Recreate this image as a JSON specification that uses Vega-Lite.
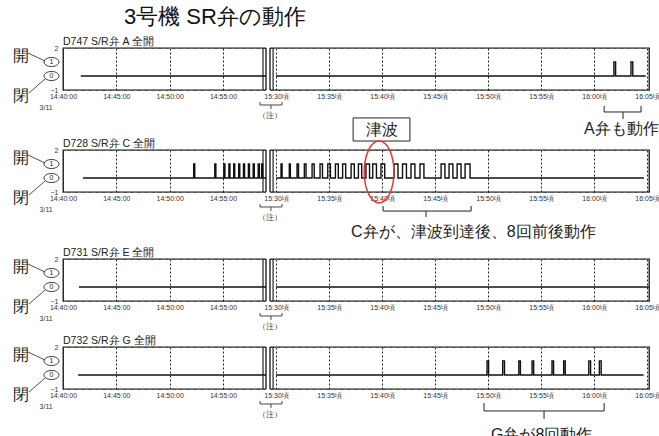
{
"padding": {"left": 12, "top": 6, "right": 0, "bottom": 0},
"config": {
 "view": {"stroke": "#111", "strokeWidth": 1.3},
 "axis": {"ticks": false, "domain": false, "labelFontSize": 7, "labelColor": "#333"},
 "axisX": {"grid": true, "gridColor": "#222", "gridDash": [2, 2], "gridWidth": 1, "labelPadding": 2, "labelFlush": false, "labelOverlap": false},
 "axisY": {"grid": true, "gridColor": "#777", "gridDash": [4, 3], "gridWidth": 0.8}
},
"title": {"text": "3号機 SR弁の動作", "anchor": "start", "frame": "group", "dx": 61, "fontSize": 22, "fontWeight": "normal", "color": "#111", "offset": 7},
"spacing": 20,
"bounds": "flush",
"vconcat": [
 {"width": 586, "height": 42, "data": {"values": [{}]},
  "layer": [
   {"data": {"values": [
     {"s": 1, "t": 41.67, "v": 0}, {"s": 1, "t": 59.03, "v": 0},
     {"s": 2, "t": 90, "v": 0}, {"s": 2, "t": 121.87, "v": 1}, {"s": 2, "t": 122.03, "v": 0},
     {"s": 2, "t": 123.48, "v": 1}, {"s": 2, "t": 123.65, "v": 0}, {"s": 2, "t": 124.88, "v": 0}]},
    "mark": {"type": "line", "interpolate": "step-after", "color": "#111", "strokeWidth": 1.4},
    "encoding": {
     "x": {"field": "t", "type": "quantitative", "scale": {"domain": [40, 59.03, 89.43, 125.18], "range": [0, 203, 207, 586], "nice": false, "zero": false}, "axis": {"title": null, "values": [40, 45, 50, 55, 90, 95, 100, 105, 110, 115, 120, 125], "labelExpr": "datum.value < 60 ? '14:' + datum.value + ':00' : datum.value < 120 ? '15:' + (datum.value - 60) + '頃' : '16:0' + (datum.value - 120) + '頃'"}},
     "y": {"field": "v", "type": "quantitative", "scale": {"domain": [-1, 2], "nice": false}, "axis": {"title": null, "values": [2, 1, 0, -1], "labelExpr": "datum.value==2?'2':datum.value==-1?'−1':''", "labelPadding": 5}},
     "detail": {"field": "s"}}},
   {"mark": {"type": "rect", "fill": "white"}, "encoding": {"x": {"datum": 59.03}, "x2": {"datum": 89.43}, "y": {"datum": 2.15}, "y2": {"datum": -1.15}}},
   {"mark": {"type": "rule", "color": "#111", "strokeWidth": 1.3}, "encoding": {"x": {"datum": 59.03}}},
   {"mark": {"type": "rule", "color": "#111", "strokeWidth": 1.1}, "encoding": {"x": {"datum": 58.75}}},
   {"mark": {"type": "rule", "color": "#111", "strokeWidth": 1.3}, "encoding": {"x": {"datum": 89.43}}},
   {"mark": {"type": "rule", "color": "#111", "strokeWidth": 1.1}, "encoding": {"x": {"datum": 89.72}}},
   {"mark": {"type": "point", "shape": "M -1 0 A 1 0.6 0 1 1 1 0 A 1 0.6 0 1 1 -1 0 Z", "size": 225, "filled": true, "fill": "white", "stroke": "#222", "strokeWidth": 0.9, "opacity": 1}, "encoding": {"x": {"datum": 38.92}, "y": {"datum": 1}}},
   {"mark": {"type": "point", "shape": "M -1 0 A 1 0.6 0 1 1 1 0 A 1 0.6 0 1 1 -1 0 Z", "size": 225, "filled": true, "fill": "white", "stroke": "#222", "strokeWidth": 0.9, "opacity": 1}, "encoding": {"x": {"datum": 38.92}, "y": {"datum": 0}}},
   {"mark": {"type": "text", "text": "1", "fontSize": 7, "color": "#222"}, "encoding": {"x": {"datum": 38.92}, "y": {"datum": 1}}},
   {"mark": {"type": "text", "text": "0", "fontSize": 7, "color": "#222"}, "encoding": {"x": {"datum": 38.92}, "y": {"datum": 0}}},
   {"mark": {"type": "text", "text": "開", "fontSize": 16, "color": "#222"}, "encoding": {"x": {"datum": 36.03}, "y": {"datum": 1.46}}},
   {"mark": {"type": "text", "text": "閉", "fontSize": 16, "color": "#222"}, "encoding": {"x": {"datum": 36.03}, "y": {"datum": -1.46}}},
   {"mark": {"type": "rule", "color": "#222", "strokeWidth": 0.8}, "encoding": {"x": {"datum": 36.72}, "x2": {"datum": 38.32}, "y": {"datum": 1.64}, "y2": {"datum": 1.07}}},
   {"mark": {"type": "rule", "color": "#222", "strokeWidth": 0.8}, "encoding": {"x": {"datum": 36.82}, "x2": {"datum": 38.32}, "y": {"datum": -1.21}, "y2": {"datum": -0.21}}},
   {"mark": {"type": "text", "text": "3/11", "fontSize": 7, "color": "#333"}, "encoding": {"x": {"datum": 38.42}, "y": {"datum": -2.25}}},
   {"mark": {"type": "rule", "color": "#333", "strokeWidth": 0.9}, "encoding": {"x": {"datum": 58.47}, "x2": {"datum": 90.56}, "y": {"datum": -2.07}}},
   {"mark": {"type": "rule", "color": "#333", "strokeWidth": 0.9}, "encoding": {"x": {"datum": 58.47}, "y": {"datum": -2.07}, "y2": {"datum": -1.86}}},
   {"mark": {"type": "rule", "color": "#333", "strokeWidth": 0.9}, "encoding": {"x": {"datum": 90.56}, "y": {"datum": -2.07}, "y2": {"datum": -1.86}}},
   {"mark": {"type": "rule", "color": "#333", "strokeWidth": 0.9}, "encoding": {"x": {"datum": 89.52}, "y": {"datum": -2.07}, "y2": {"datum": -2.36}}},
   {"mark": {"type": "text", "text": "（注）", "fontSize": 7.5, "color": "#333"}, "encoding": {"x": {"datum": 89.15}, "y": {"datum": -2.85}}},
   {"mark": {"type": "text", "text": "D747 S/R弁 A 全開", "align": "left", "baseline": "bottom", "dy": -1, "fontSize": 10.5, "color": "#222"}, "encoding": {"x": {"datum": 40}, "y": {"datum": 2}}},
   {"mark": {"type": "rule", "color": "#222", "strokeWidth": 1}, "encoding": {"x": {"datum": 120.95}, "x2": {"datum": 124.43}, "y": {"datum": -2.57}}},
   {"mark": {"type": "rule", "color": "#222", "strokeWidth": 1}, "encoding": {"x": {"datum": 120.95}, "y": {"datum": -2.57}, "y2": {"datum": -2.14}}},
   {"mark": {"type": "rule", "color": "#222", "strokeWidth": 1}, "encoding": {"x": {"datum": 124.43}, "y": {"datum": -2.57}, "y2": {"datum": -2.14}}},
   {"mark": {"type": "rule", "color": "#222", "strokeWidth": 1}, "encoding": {"x": {"datum": 122.73}, "y": {"datum": -2.57}, "y2": {"datum": -3.07}}},
   {"mark": {"type": "text", "text": "A弁も動作", "fontSize": 16, "align": "left", "color": "#222"}, "encoding": {"x": {"datum": 119.05}, "y": {"datum": -3.79}}}
  ]},
 {"width": 586, "height": 20, "data": {"values": [{}]}, "mark": {"type": "text", "text": ""}, "encoding": {}, "view": {"stroke": null}},
 {"width": 586, "height": 42, "data": {"values": [{}]},
  "layer": [
   {"data": {"values": [
     {"s": 1, "t": 41.87, "v": 0},
     {"s": 1, "t": 52.25, "v": 1}, {"s": 1, "t": 52.35, "v": 0},
     {"s": 1, "t": 54.23, "v": 1}, {"s": 1, "t": 54.33, "v": 0},
     {"s": 1, "t": 55.08, "v": 1}, {"s": 1, "t": 55.18, "v": 0},
     {"s": 1, "t": 55.55, "v": 1}, {"s": 1, "t": 55.65, "v": 0},
     {"s": 1, "t": 56.0, "v": 1}, {"s": 1, "t": 56.1, "v": 0},
     {"s": 1, "t": 56.47, "v": 1}, {"s": 1, "t": 56.57, "v": 0},
     {"s": 1, "t": 56.92, "v": 1}, {"s": 1, "t": 57.02, "v": 0},
     {"s": 1, "t": 57.38, "v": 1}, {"s": 1, "t": 57.48, "v": 0},
     {"s": 1, "t": 57.83, "v": 1}, {"s": 1, "t": 57.93, "v": 0},
     {"s": 1, "t": 58.3, "v": 1}, {"s": 1, "t": 58.4, "v": 0},
     {"s": 1, "t": 58.62, "v": 1}, {"s": 1, "t": 58.72, "v": 0},
     {"s": 1, "t": 59.03, "v": 0},
     {"s": 2, "t": 90, "v": 0},
     {"s": 2, "t": 90.47, "v": 1}, {"s": 2, "t": 90.57, "v": 0},
     {"s": 2, "t": 91.25, "v": 1}, {"s": 2, "t": 91.35, "v": 0},
     {"s": 2, "t": 91.98, "v": 1}, {"s": 2, "t": 92.12, "v": 0},
     {"s": 2, "t": 92.67, "v": 1}, {"s": 2, "t": 92.83, "v": 0},
     {"s": 2, "t": 93.4, "v": 1}, {"s": 2, "t": 93.6, "v": 0},
     {"s": 2, "t": 94.15, "v": 1}, {"s": 2, "t": 94.38, "v": 0},
     {"s": 2, "t": 94.88, "v": 1}, {"s": 2, "t": 95.13, "v": 0},
     {"s": 2, "t": 95.6, "v": 1}, {"s": 2, "t": 95.87, "v": 0},
     {"s": 2, "t": 96.28, "v": 1}, {"s": 2, "t": 96.57, "v": 0},
     {"s": 2, "t": 97.08, "v": 1}, {"s": 2, "t": 97.38, "v": 0},
     {"s": 2, "t": 97.77, "v": 1}, {"s": 2, "t": 98.08, "v": 0},
     {"s": 2, "t": 98.48, "v": 1}, {"s": 2, "t": 98.82, "v": 0},
     {"s": 2, "t": 99.12, "v": 1}, {"s": 2, "t": 99.47, "v": 0},
     {"s": 2, "t": 99.9, "v": 1}, {"s": 2, "t": 100.25, "v": 0},
     {"s": 2, "t": 101.13, "v": 1}, {"s": 2, "t": 101.5, "v": 0},
     {"s": 2, "t": 101.93, "v": 1}, {"s": 2, "t": 102.3, "v": 0},
     {"s": 2, "t": 102.73, "v": 1}, {"s": 2, "t": 103.1, "v": 0},
     {"s": 2, "t": 103.58, "v": 1}, {"s": 2, "t": 103.95, "v": 0},
     {"s": 2, "t": 105.57, "v": 1}, {"s": 2, "t": 105.93, "v": 0},
     {"s": 2, "t": 106.32, "v": 1}, {"s": 2, "t": 106.68, "v": 0},
     {"s": 2, "t": 107.08, "v": 1}, {"s": 2, "t": 107.45, "v": 0},
     {"s": 2, "t": 107.83, "v": 1}, {"s": 2, "t": 108.3, "v": 0},
     {"s": 2, "t": 124.7, "v": 0}]},
    "mark": {"type": "line", "interpolate": "step-after", "color": "#111", "strokeWidth": 1.4},
    "encoding": {
     "x": {"field": "t", "type": "quantitative", "scale": {"domain": [40, 59.03, 89.43, 125.18], "range": [0, 203, 207, 586], "nice": false, "zero": false}, "axis": {"title": null, "values": [40, 45, 50, 55, 90, 95, 100, 105, 110, 115, 120, 125], "labelExpr": "datum.value < 60 ? '14:' + datum.value + ':00' : datum.value < 120 ? '15:' + (datum.value - 60) + '頃' : '16:0' + (datum.value - 120) + '頃'"}},
     "y": {"field": "v", "type": "quantitative", "scale": {"domain": [-1, 2], "nice": false}, "axis": {"title": null, "values": [2, 1, 0, -1], "labelExpr": "datum.value==2?'2':datum.value==-1?'−1':''", "labelPadding": 5}},
     "detail": {"field": "s"}}},
   {"mark": {"type": "rect", "fill": "white"}, "encoding": {"x": {"datum": 59.03}, "x2": {"datum": 89.43}, "y": {"datum": 2.15}, "y2": {"datum": -1.15}}},
   {"mark": {"type": "rule", "color": "#111", "strokeWidth": 1.3}, "encoding": {"x": {"datum": 59.03}}},
   {"mark": {"type": "rule", "color": "#111", "strokeWidth": 1.1}, "encoding": {"x": {"datum": 58.75}}},
   {"mark": {"type": "rule", "color": "#111", "strokeWidth": 1.3}, "encoding": {"x": {"datum": 89.43}}},
   {"mark": {"type": "rule", "color": "#111", "strokeWidth": 1.1}, "encoding": {"x": {"datum": 89.72}}},
   {"mark": {"type": "point", "shape": "M -1 0 A 1 0.6 0 1 1 1 0 A 1 0.6 0 1 1 -1 0 Z", "size": 225, "filled": true, "fill": "white", "stroke": "#222", "strokeWidth": 0.9, "opacity": 1}, "encoding": {"x": {"datum": 38.92}, "y": {"datum": 1}}},
   {"mark": {"type": "point", "shape": "M -1 0 A 1 0.6 0 1 1 1 0 A 1 0.6 0 1 1 -1 0 Z", "size": 225, "filled": true, "fill": "white", "stroke": "#222", "strokeWidth": 0.9, "opacity": 1}, "encoding": {"x": {"datum": 38.92}, "y": {"datum": 0}}},
   {"mark": {"type": "text", "text": "1", "fontSize": 7, "color": "#222"}, "encoding": {"x": {"datum": 38.92}, "y": {"datum": 1}}},
   {"mark": {"type": "text", "text": "0", "fontSize": 7, "color": "#222"}, "encoding": {"x": {"datum": 38.92}, "y": {"datum": 0}}},
   {"mark": {"type": "text", "text": "開", "fontSize": 16, "color": "#222"}, "encoding": {"x": {"datum": 36.03}, "y": {"datum": 1.46}}},
   {"mark": {"type": "text", "text": "閉", "fontSize": 16, "color": "#222"}, "encoding": {"x": {"datum": 36.03}, "y": {"datum": -1.46}}},
   {"mark": {"type": "rule", "color": "#222", "strokeWidth": 0.8}, "encoding": {"x": {"datum": 36.72}, "x2": {"datum": 38.32}, "y": {"datum": 1.64}, "y2": {"datum": 1.07}}},
   {"mark": {"type": "rule", "color": "#222", "strokeWidth": 0.8}, "encoding": {"x": {"datum": 36.82}, "x2": {"datum": 38.32}, "y": {"datum": -1.21}, "y2": {"datum": -0.21}}},
   {"mark": {"type": "text", "text": "3/11", "fontSize": 7, "color": "#333"}, "encoding": {"x": {"datum": 38.42}, "y": {"datum": -2.25}}},
   {"mark": {"type": "rule", "color": "#333", "strokeWidth": 0.9}, "encoding": {"x": {"datum": 58.47}, "x2": {"datum": 90.56}, "y": {"datum": -2.07}}},
   {"mark": {"type": "rule", "color": "#333", "strokeWidth": 0.9}, "encoding": {"x": {"datum": 58.47}, "y": {"datum": -2.07}, "y2": {"datum": -1.86}}},
   {"mark": {"type": "rule", "color": "#333", "strokeWidth": 0.9}, "encoding": {"x": {"datum": 90.56}, "y": {"datum": -2.07}, "y2": {"datum": -1.86}}},
   {"mark": {"type": "rule", "color": "#333", "strokeWidth": 0.9}, "encoding": {"x": {"datum": 89.52}, "y": {"datum": -2.07}, "y2": {"datum": -2.36}}},
   {"mark": {"type": "text", "text": "（注）", "fontSize": 7.5, "color": "#333"}, "encoding": {"x": {"datum": 89.15}, "y": {"datum": -2.85}}},
   {"mark": {"type": "text", "text": "D728 S/R弁 C 全開", "align": "left", "baseline": "bottom", "dy": -1, "fontSize": 10.5, "color": "#222"}, "encoding": {"x": {"datum": 40}, "y": {"datum": 2}}},
   {"mark": {"type": "rect", "fill": "white", "stroke": "#222", "strokeWidth": 1}, "encoding": {"x": {"datum": 97.27}, "x2": {"datum": 102.63}, "y": {"datum": 4.29}, "y2": {"datum": 2.64}}},
   {"mark": {"type": "text", "text": "津波", "fontSize": 16, "color": "#222"}, "encoding": {"x": {"datum": 99.95}, "y": {"datum": 3.46}}},
   {"mark": {"type": "point", "shape": "M 0 -1 A 0.48 1 0 1 1 0 1 A 0.48 1 0 1 1 0 -1 Z", "size": 3844, "filled": false, "color": "#e03a3a", "strokeWidth": 1.5, "opacity": 1}, "encoding": {"x": {"datum": 99.72}, "y": {"datum": 0.43}}},
   {"mark": {"type": "rule", "color": "#222", "strokeWidth": 1}, "encoding": {"x": {"datum": 100.1}, "x2": {"datum": 108.4}, "y": {"datum": -2.36}}},
   {"mark": {"type": "rule", "color": "#222", "strokeWidth": 1}, "encoding": {"x": {"datum": 100.1}, "y": {"datum": -2.36}, "y2": {"datum": -2.0}}},
   {"mark": {"type": "rule", "color": "#222", "strokeWidth": 1}, "encoding": {"x": {"datum": 108.4}, "y": {"datum": -2.36}, "y2": {"datum": -2.0}}},
   {"mark": {"type": "rule", "color": "#222", "strokeWidth": 1}, "encoding": {"x": {"datum": 104.15}, "y": {"datum": -2.36}, "y2": {"datum": -2.79}}},
   {"mark": {"type": "text", "text": "C弁が、津波到達後、8回前後動作", "fontSize": 16, "align": "left", "color": "#222"}, "encoding": {"x": {"datum": 97.08}, "y": {"datum": -3.86}}}
  ]},
 {"width": 586, "height": 27, "data": {"values": [{}]}, "mark": {"type": "text", "text": ""}, "encoding": {}, "view": {"stroke": null}},
 {"width": 586, "height": 42, "data": {"values": [{}]},
  "layer": [
   {"data": {"values": [
     {"s": 1, "t": 41.5, "v": 0}, {"s": 1, "t": 59.03, "v": 0},
     {"s": 2, "t": 90, "v": 0}, {"s": 2, "t": 125.17, "v": 0}]},
    "mark": {"type": "line", "interpolate": "step-after", "color": "#111", "strokeWidth": 1.4},
    "encoding": {
     "x": {"field": "t", "type": "quantitative", "scale": {"domain": [40, 59.03, 89.43, 125.18], "range": [0, 203, 207, 586], "nice": false, "zero": false}, "axis": {"title": null, "values": [40, 45, 50, 55, 90, 95, 100, 105, 110, 115, 120, 125], "labelExpr": "datum.value < 60 ? '14:' + datum.value + ':00' : datum.value < 120 ? '15:' + (datum.value - 60) + '頃' : '16:0' + (datum.value - 120) + '頃'"}},
     "y": {"field": "v", "type": "quantitative", "scale": {"domain": [-1, 2], "nice": false}, "axis": {"title": null, "values": [2, 1, 0, -1], "labelExpr": "datum.value==2?'2':datum.value==-1?'−1':''", "labelPadding": 5}},
     "detail": {"field": "s"}}},
   {"mark": {"type": "rect", "fill": "white"}, "encoding": {"x": {"datum": 59.03}, "x2": {"datum": 89.43}, "y": {"datum": 2.15}, "y2": {"datum": -1.15}}},
   {"mark": {"type": "rule", "color": "#111", "strokeWidth": 1.3}, "encoding": {"x": {"datum": 59.03}}},
   {"mark": {"type": "rule", "color": "#111", "strokeWidth": 1.1}, "encoding": {"x": {"datum": 58.75}}},
   {"mark": {"type": "rule", "color": "#111", "strokeWidth": 1.3}, "encoding": {"x": {"datum": 89.43}}},
   {"mark": {"type": "rule", "color": "#111", "strokeWidth": 1.1}, "encoding": {"x": {"datum": 89.72}}},
   {"mark": {"type": "point", "shape": "M -1 0 A 1 0.6 0 1 1 1 0 A 1 0.6 0 1 1 -1 0 Z", "size": 225, "filled": true, "fill": "white", "stroke": "#222", "strokeWidth": 0.9, "opacity": 1}, "encoding": {"x": {"datum": 38.92}, "y": {"datum": 1}}},
   {"mark": {"type": "point", "shape": "M -1 0 A 1 0.6 0 1 1 1 0 A 1 0.6 0 1 1 -1 0 Z", "size": 225, "filled": true, "fill": "white", "stroke": "#222", "strokeWidth": 0.9, "opacity": 1}, "encoding": {"x": {"datum": 38.92}, "y": {"datum": 0}}},
   {"mark": {"type": "text", "text": "1", "fontSize": 7, "color": "#222"}, "encoding": {"x": {"datum": 38.92}, "y": {"datum": 1}}},
   {"mark": {"type": "text", "text": "0", "fontSize": 7, "color": "#222"}, "encoding": {"x": {"datum": 38.92}, "y": {"datum": 0}}},
   {"mark": {"type": "text", "text": "開", "fontSize": 16, "color": "#222"}, "encoding": {"x": {"datum": 36.03}, "y": {"datum": 1.46}}},
   {"mark": {"type": "text", "text": "閉", "fontSize": 16, "color": "#222"}, "encoding": {"x": {"datum": 36.03}, "y": {"datum": -1.46}}},
   {"mark": {"type": "rule", "color": "#222", "strokeWidth": 0.8}, "encoding": {"x": {"datum": 36.72}, "x2": {"datum": 38.32}, "y": {"datum": 1.64}, "y2": {"datum": 1.07}}},
   {"mark": {"type": "rule", "color": "#222", "strokeWidth": 0.8}, "encoding": {"x": {"datum": 36.82}, "x2": {"datum": 38.32}, "y": {"datum": -1.21}, "y2": {"datum": -0.21}}},
   {"mark": {"type": "text", "text": "3/11", "fontSize": 7, "color": "#333"}, "encoding": {"x": {"datum": 38.42}, "y": {"datum": -2.25}}},
   {"mark": {"type": "rule", "color": "#333", "strokeWidth": 0.9}, "encoding": {"x": {"datum": 58.47}, "x2": {"datum": 90.56}, "y": {"datum": -2.07}}},
   {"mark": {"type": "rule", "color": "#333", "strokeWidth": 0.9}, "encoding": {"x": {"datum": 58.47}, "y": {"datum": -2.07}, "y2": {"datum": -1.86}}},
   {"mark": {"type": "rule", "color": "#333", "strokeWidth": 0.9}, "encoding": {"x": {"datum": 90.56}, "y": {"datum": -2.07}, "y2": {"datum": -1.86}}},
   {"mark": {"type": "rule", "color": "#333", "strokeWidth": 0.9}, "encoding": {"x": {"datum": 89.52}, "y": {"datum": -2.07}, "y2": {"datum": -2.36}}},
   {"mark": {"type": "text", "text": "（注）", "fontSize": 7.5, "color": "#333"}, "encoding": {"x": {"datum": 89.15}, "y": {"datum": -2.85}}},
   {"mark": {"type": "text", "text": "D731 S/R弁 E 全開", "align": "left", "baseline": "bottom", "dy": -1, "fontSize": 10.5, "color": "#222"}, "encoding": {"x": {"datum": 40}, "y": {"datum": 2}}}
  ]},
 {"width": 586, "height": 6, "data": {"values": [{}]}, "mark": {"type": "text", "text": ""}, "encoding": {}, "view": {"stroke": null}},
 {"width": 586, "height": 42, "data": {"values": [{}]},
  "layer": [
   {"data": {"values": [
     {"s": 1, "t": 41.42, "v": 0}, {"s": 1, "t": 59.03, "v": 0},
     {"s": 2, "t": 90, "v": 0},
     {"s": 2, "t": 109.9, "v": 1}, {"s": 2, "t": 110.05, "v": 0},
     {"s": 2, "t": 111.38, "v": 1}, {"s": 2, "t": 111.55, "v": 0},
     {"s": 2, "t": 112.9, "v": 1}, {"s": 2, "t": 113.05, "v": 0},
     {"s": 2, "t": 114.15, "v": 1}, {"s": 2, "t": 114.3, "v": 0},
     {"s": 2, "t": 116.03, "v": 1}, {"s": 2, "t": 116.18, "v": 0},
     {"s": 2, "t": 117.13, "v": 1}, {"s": 2, "t": 117.28, "v": 0},
     {"s": 2, "t": 119.5, "v": 1}, {"s": 2, "t": 119.67, "v": 0},
     {"s": 2, "t": 120.5, "v": 1}, {"s": 2, "t": 120.67, "v": 0},
     {"s": 2, "t": 124.67, "v": 0}]},
    "mark": {"type": "line", "interpolate": "step-after", "color": "#111", "strokeWidth": 1.4},
    "encoding": {
     "x": {"field": "t", "type": "quantitative", "scale": {"domain": [40, 59.03, 89.43, 125.18], "range": [0, 203, 207, 586], "nice": false, "zero": false}, "axis": {"title": null, "values": [40, 45, 50, 55, 90, 95, 100, 105, 110, 115, 120, 125], "labelExpr": "datum.value < 60 ? '14:' + datum.value + ':00' : datum.value < 120 ? '15:' + (datum.value - 60) + '頃' : '16:0' + (datum.value - 120) + '頃'"}},
     "y": {"field": "v", "type": "quantitative", "scale": {"domain": [-1, 2], "nice": false}, "axis": {"title": null, "values": [2, 1, 0, -1], "labelExpr": "datum.value==2?'2':datum.value==-1?'−1':''", "labelPadding": 5}},
     "detail": {"field": "s"}}},
   {"mark": {"type": "rect", "fill": "white"}, "encoding": {"x": {"datum": 59.03}, "x2": {"datum": 89.43}, "y": {"datum": 2.15}, "y2": {"datum": -1.15}}},
   {"mark": {"type": "rule", "color": "#111", "strokeWidth": 1.3}, "encoding": {"x": {"datum": 59.03}}},
   {"mark": {"type": "rule", "color": "#111", "strokeWidth": 1.1}, "encoding": {"x": {"datum": 58.75}}},
   {"mark": {"type": "rule", "color": "#111", "strokeWidth": 1.3}, "encoding": {"x": {"datum": 89.43}}},
   {"mark": {"type": "rule", "color": "#111", "strokeWidth": 1.1}, "encoding": {"x": {"datum": 89.72}}},
   {"mark": {"type": "point", "shape": "M -1 0 A 1 0.6 0 1 1 1 0 A 1 0.6 0 1 1 -1 0 Z", "size": 225, "filled": true, "fill": "white", "stroke": "#222", "strokeWidth": 0.9, "opacity": 1}, "encoding": {"x": {"datum": 38.92}, "y": {"datum": 1}}},
   {"mark": {"type": "point", "shape": "M -1 0 A 1 0.6 0 1 1 1 0 A 1 0.6 0 1 1 -1 0 Z", "size": 225, "filled": true, "fill": "white", "stroke": "#222", "strokeWidth": 0.9, "opacity": 1}, "encoding": {"x": {"datum": 38.92}, "y": {"datum": 0}}},
   {"mark": {"type": "text", "text": "1", "fontSize": 7, "color": "#222"}, "encoding": {"x": {"datum": 38.92}, "y": {"datum": 1}}},
   {"mark": {"type": "text", "text": "0", "fontSize": 7, "color": "#222"}, "encoding": {"x": {"datum": 38.92}, "y": {"datum": 0}}},
   {"mark": {"type": "text", "text": "開", "fontSize": 16, "color": "#222"}, "encoding": {"x": {"datum": 36.03}, "y": {"datum": 1.46}}},
   {"mark": {"type": "text", "text": "閉", "fontSize": 16, "color": "#222"}, "encoding": {"x": {"datum": 36.03}, "y": {"datum": -1.46}}},
   {"mark": {"type": "rule", "color": "#222", "strokeWidth": 0.8}, "encoding": {"x": {"datum": 36.72}, "x2": {"datum": 38.32}, "y": {"datum": 1.64}, "y2": {"datum": 1.07}}},
   {"mark": {"type": "rule", "color": "#222", "strokeWidth": 0.8}, "encoding": {"x": {"datum": 36.82}, "x2": {"datum": 38.32}, "y": {"datum": -1.21}, "y2": {"datum": -0.21}}},
   {"mark": {"type": "text", "text": "3/11", "fontSize": 7, "color": "#333"}, "encoding": {"x": {"datum": 38.42}, "y": {"datum": -2.25}}},
   {"mark": {"type": "rule", "color": "#333", "strokeWidth": 0.9}, "encoding": {"x": {"datum": 58.47}, "x2": {"datum": 90.56}, "y": {"datum": -2.07}}},
   {"mark": {"type": "rule", "color": "#333", "strokeWidth": 0.9}, "encoding": {"x": {"datum": 58.47}, "y": {"datum": -2.07}, "y2": {"datum": -1.86}}},
   {"mark": {"type": "rule", "color": "#333", "strokeWidth": 0.9}, "encoding": {"x": {"datum": 90.56}, "y": {"datum": -2.07}, "y2": {"datum": -1.86}}},
   {"mark": {"type": "rule", "color": "#333", "strokeWidth": 0.9}, "encoding": {"x": {"datum": 89.52}, "y": {"datum": -2.07}, "y2": {"datum": -2.36}}},
   {"mark": {"type": "text", "text": "（注）", "fontSize": 7.5, "color": "#333"}, "encoding": {"x": {"datum": 89.15}, "y": {"datum": -2.85}}},
   {"mark": {"type": "text", "text": "D732 S/R弁 G 全開", "align": "left", "baseline": "bottom", "dy": -1, "fontSize": 10.5, "color": "#222"}, "encoding": {"x": {"datum": 40}, "y": {"datum": 2}}},
   {"mark": {"type": "rule", "color": "#222", "strokeWidth": 1}, "encoding": {"x": {"datum": 109.62}, "x2": {"datum": 120.95}, "y": {"datum": -2.57}}},
   {"mark": {"type": "rule", "color": "#222", "strokeWidth": 1}, "encoding": {"x": {"datum": 109.62}, "y": {"datum": -2.57}, "y2": {"datum": -2.0}}},
   {"mark": {"type": "rule", "color": "#222", "strokeWidth": 1}, "encoding": {"x": {"datum": 120.95}, "y": {"datum": -2.57}, "y2": {"datum": -2.0}}},
   {"mark": {"type": "rule", "color": "#222", "strokeWidth": 1}, "encoding": {"x": {"datum": 115.28}, "y": {"datum": -2.57}, "y2": {"datum": -3.14}}},
   {"mark": {"type": "text", "text": "G弁が8回動作", "fontSize": 16, "align": "left", "color": "#222"}, "encoding": {"x": {"datum": 110.28}, "y": {"datum": -4.29}}}
  ]}
]
}
